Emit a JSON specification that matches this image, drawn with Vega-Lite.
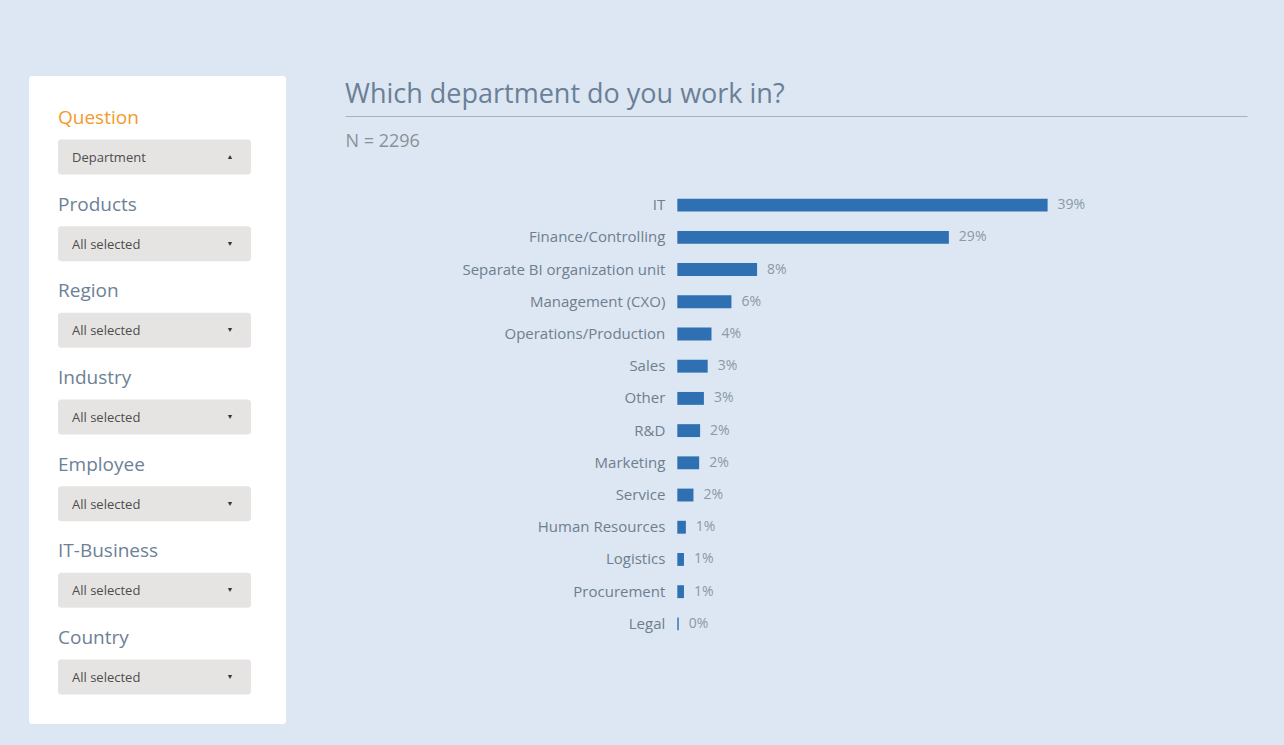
{
  "$schema": "https://vega.github.io/schema/vega-lite/v6.json",
  "background": "#dce7f3",
  "padding": {"left": 29, "top": 76, "right": 37, "bottom": 21},
  "config": {"view": {"stroke": null}, "font": "Open Sans"},
  "spacing": 59,
  "hconcat": [
    {
      "width": 257,
      "height": 648,
      "view": {"fill": "#ffffff", "stroke": null, "cornerRadius": 3},
      "data": {"values": [
        {"filter": "Question", "selection": "Department", "arrow": "▲"},
        {"filter": "Products", "selection": "All selected", "arrow": "▼"},
        {"filter": "Region", "selection": "All selected", "arrow": "▼"},
        {"filter": "Industry", "selection": "All selected", "arrow": "▼"},
        {"filter": "Employee", "selection": "All selected", "arrow": "▼"},
        {"filter": "IT-Business", "selection": "All selected", "arrow": "▼"},
        {"filter": "Country", "selection": "All selected", "arrow": "▼"}
      ]},
      "encoding": {
        "y": {"field": "filter", "type": "nominal", "sort": null, "axis": null, "scale": {"paddingInner": 0, "paddingOuter": 0.24}},
        "x": {"datum": "filter box", "type": "nominal", "axis": null, "scale": {"paddingInner": 0, "paddingOuter": 0.166, "align": 0.453}}
      },
      "layer": [
        {"mark": {"type": "rect", "height": 35, "yOffset": 17, "color": "#e6e4e3", "cornerRadius": 3}},
        {
          "mark": {"type": "text", "align": "left", "baseline": "middle", "yOffset": -22, "fontSize": 19},
          "encoding": {
            "x": {"datum": "filter box", "type": "nominal", "bandPosition": 0},
            "text": {"field": "filter"},
            "color": {"condition": {"test": "datum.filter === 'Question'", "value": "#f39a2c"}, "value": "#6d8196"}
          }
        },
        {
          "mark": {"type": "text", "align": "left", "baseline": "middle", "yOffset": 18, "dx": 14, "fontSize": 13, "color": "#4d4d4d"},
          "encoding": {
            "x": {"datum": "filter box", "type": "nominal", "bandPosition": 0},
            "text": {"field": "selection"}
          }
        },
        {
          "mark": {"type": "text", "align": "center", "baseline": "middle", "yOffset": 17, "dx": -21, "fontSize": 7, "color": "#333333"},
          "encoding": {
            "x": {"datum": "filter box", "type": "nominal", "bandPosition": 1},
            "text": {"field": "arrow"}
          }
        }
      ]
    },
    {
      "width": 902,
      "height": 648,
      "title": {"text": "Which department do you work in?", "anchor": "start", "frame": "group", "fontSize": 27, "fontWeight": "normal", "color": "#6b8096", "offset": 0, "dy": 33},
      "data": {"values": [
        {"department": "IT", "share": 0.39},
        {"department": "Finance/Controlling", "share": 0.286},
        {"department": "Separate BI organization unit", "share": 0.084},
        {"department": "Management (CXO)", "share": 0.057},
        {"department": "Operations/Production", "share": 0.036},
        {"department": "Sales", "share": 0.032},
        {"department": "Other", "share": 0.028},
        {"department": "R&D", "share": 0.024},
        {"department": "Marketing", "share": 0.023},
        {"department": "Service", "share": 0.017},
        {"department": "Human Resources", "share": 0.009},
        {"department": "Logistics", "share": 0.007},
        {"department": "Procurement", "share": 0.007},
        {"department": "Legal", "share": 0.0015}
      ]},
      "encoding": {
        "y": {"field": "department", "type": "nominal", "sort": null, "axis": null, "scale": {"paddingInner": 0.6, "paddingOuter": 0.3, "range": [113, 564]}},
        "x": {
          "field": "share", "type": "quantitative",
          "scale": {"domain": [-0.35, 0.6], "nice": false, "zero": false},
          "axis": {
            "orient": "top", "offset": -40, "domain": true, "domainColor": "#9fb4ca", "domainWidth": 1,
            "ticks": false, "labels": false, "grid": false,
            "title": "N = 2296", "titleAnchor": "start", "titleAlign": "left", "titleX": 0, "titleY": 25,
            "titleBaseline": "middle", "titleFontSize": 18, "titleFontWeight": "normal", "titleColor": "#8b9096"
          }
        }
      },
      "layer": [
        {"mark": {"type": "bar", "color": "#2f70b3"}},
        {
          "mark": {"type": "text", "align": "left", "baseline": "middle", "dx": 10, "fontSize": 14, "color": "#8b98a5"},
          "encoding": {"text": {"field": "share", "format": ".0%"}}
        },
        {
          "mark": {"type": "text", "align": "right", "baseline": "middle", "dx": -12, "fontSize": 15, "color": "#6f7e8e"},
          "encoding": {"x": {"datum": 0, "type": "quantitative"}, "text": {"field": "department"}}
        }
      ]
    }
  ]
}
